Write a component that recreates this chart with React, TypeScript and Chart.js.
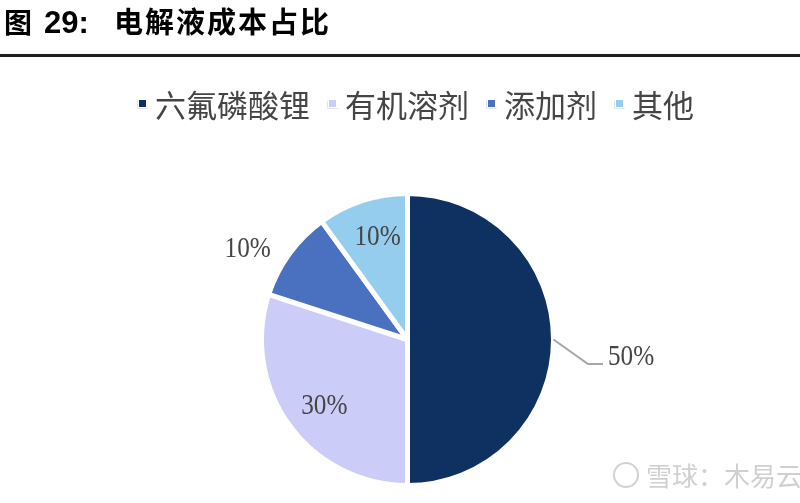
import React, { useEffect, useRef } from "react";
import { Chart, registerables } from "chart.js";

Chart.register(...registerables);

// ---- data ----
const TITLE_LABEL = "图";
const TITLE_NUMBER = "29:";
const TITLE_TEXT = "电解液成本占比";
const categories = ["六氟磷酸锂", "有机溶剂", "添加剂", "其他"];
const shares = [50, 30, 10, 10];
const valueLabels = ["50%", "30%", "10%", "10%"];
const sliceColors = ["#0f3162", "#ccccf8", "#4a71bf", "#95cdef"];
const WATERMARK = "雪球：木易云";

// ---- styling ----
const CJK = "'Noto Sans CJK SC', 'Noto Sans', sans-serif";
const SERIF = "'Liberation Serif', 'DejaVu Serif', serif";
const TEXT_COLOR = "#454545";
const LABEL_PLACEMENT = [
  { mode: "leader", r: 1, dx: 0, dy: 0 },
  { mode: "inside", r: 0.73, dx: 3, dy: 4 },
  { mode: "outside", r: 1.26, dx: -11, dy: 18 },
  { mode: "inside", r: 0.73, dx: 3, dy: -1 },
];

function drawNarrowText(
  ctx: CanvasRenderingContext2D,
  text: string,
  x: number,
  y: number,
  align: "left" | "center",
  sx: number
) {
  ctx.save();
  ctx.translate(x, y);
  ctx.scale(sx, 1);
  ctx.textAlign = align;
  ctx.fillText(text, 0, 0);
  ctx.restore();
}

const overlayPlugin = {
  id: "overlay",
  afterDraw(chart: any) {
    const ctx: CanvasRenderingContext2D = chart.ctx;
    ctx.save();

    // Title
    ctx.fillStyle = "#000";
    ctx.textBaseline = "alphabetic";
    ctx.textAlign = "left";
    ctx.font = `bold 28px ${CJK}`;
    ctx.fillText(TITLE_LABEL, 4, 33);
    ctx.font = "bold 31px 'Liberation Sans', Arial, sans-serif";
    ctx.fillText(TITLE_NUMBER, 44, 33);
    ctx.font = `bold 29px ${CJK}`;
    (ctx as any).letterSpacing = "2px";
    ctx.fillText(TITLE_TEXT, 114, 33);
    (ctx as any).letterSpacing = "0px";

    // Rule under title
    ctx.fillStyle = "#1e1e1e";
    ctx.fillRect(0, 54, chart.width, 3);

    // Legend
    ctx.font = `31px ${CJK}`;
    const boxSize = 7;
    const textOffset = 16;
    const gap = 19;
    const widths = categories.map((c) => ctx.measureText(c).width);
    const total =
      widths.reduce((a, b) => a + b, 0) +
      categories.length * textOffset +
      (categories.length - 1) * gap;
    let x = 416.5 - total / 2;
    categories.forEach((c, i) => {
      ctx.fillStyle = sliceColors[i];
      ctx.fillRect(x, 100, boxSize, boxSize);
      ctx.strokeStyle = "#e4e4e4";
      ctx.lineWidth = 1;
      ctx.beginPath();
      ctx.moveTo(x - 1.5, 101);
      ctx.lineTo(x - 1.5, 108.5);
      ctx.lineTo(x + boxSize + 2, 108.5);
      ctx.stroke();
      ctx.fillStyle = TEXT_COLOR;
      ctx.fillText(c, x + textOffset, 117);
      x += textOffset + widths[i] + gap;
    });

    // Value labels
    const meta = chart.getDatasetMeta(0);
    ctx.font = `29px ${SERIF}`;
    ctx.textBaseline = "middle";
    ctx.fillStyle = TEXT_COLOR;
    const sx = 0.87;
    meta.data.forEach((arc: any, i: number) => {
      const p = arc.getProps(["x", "y", "startAngle", "endAngle", "outerRadius"], true);
      const mid = (p.startAngle + p.endAngle) / 2;
      const place = LABEL_PLACEMENT[i];
      const R = p.outerRadius;
      if (place.mode === "leader") {
        const ex = p.x + R * Math.cos(mid);
        const ey = p.y + R * Math.sin(mid);
        const kx = ex + 34.5;
        const ky = ey + 24.5;
        const endX = kx + 15;
        ctx.strokeStyle = "#a6a6a6";
        ctx.lineWidth = 2;
        ctx.beginPath();
        ctx.moveTo(ex, ey);
        ctx.lineTo(kx, ky);
        ctx.lineTo(endX, ky);
        ctx.stroke();
        drawNarrowText(ctx, valueLabels[i], endX + 5, ky - 7, "left", sx);
      } else {
        const lx = p.x + R * place.r * Math.cos(mid) + place.dx;
        const ly = p.y + R * place.r * Math.sin(mid) + place.dy;
        drawNarrowText(ctx, valueLabels[i], lx, ly, "center", sx);
      }
    });

    // Watermark
    ctx.strokeStyle = "#d2d2d2";
    ctx.lineWidth = 2;
    ctx.beginPath();
    ctx.arc(626, 475, 12, 0, Math.PI * 2);
    ctx.stroke();
    ctx.fillStyle = "#d0d0d0";
    ctx.font = `26px ${CJK}`;
    ctx.textAlign = "left";
    ctx.textBaseline = "alphabetic";
    ctx.fillText(WATERMARK, 646, 486);

    ctx.restore();
  },
};

export default function App() {
  const canvasRef = useRef<HTMLCanvasElement | null>(null);

  useEffect(() => {
    if (!canvasRef.current) return;
    const chart = new Chart(canvasRef.current, {
      type: "pie",
      data: {
        labels: categories,
        datasets: [
          {
            data: shares,
            backgroundColor: sliceColors,
            borderColor: "#ffffff",
            borderWidth: 5,
            radius: 146,
          } as any,
        ],
      },
      options: {
        animation: false,
        responsive: false,
        maintainAspectRatio: false,
        events: [],
        layout: {
          padding: { top: 189.5, bottom: 13.5, left: 257.5, right: 242.5 },
        },
        plugins: {
          legend: { display: false },
          title: { display: false },
          tooltip: { enabled: false },
        },
      },
      plugins: [overlayPlugin],
    });
    return () => chart.destroy();
  }, []);

  return (
    <div
      style={{
        position: "fixed",
        left: 0,
        top: 0,
        width: 800,
        height: 503,
        background: "#ffffff",
      }}
    >
      <canvas ref={canvasRef} width={800} height={503} style={{ width: 800, height: 503 }} />
    </div>
  );
}
